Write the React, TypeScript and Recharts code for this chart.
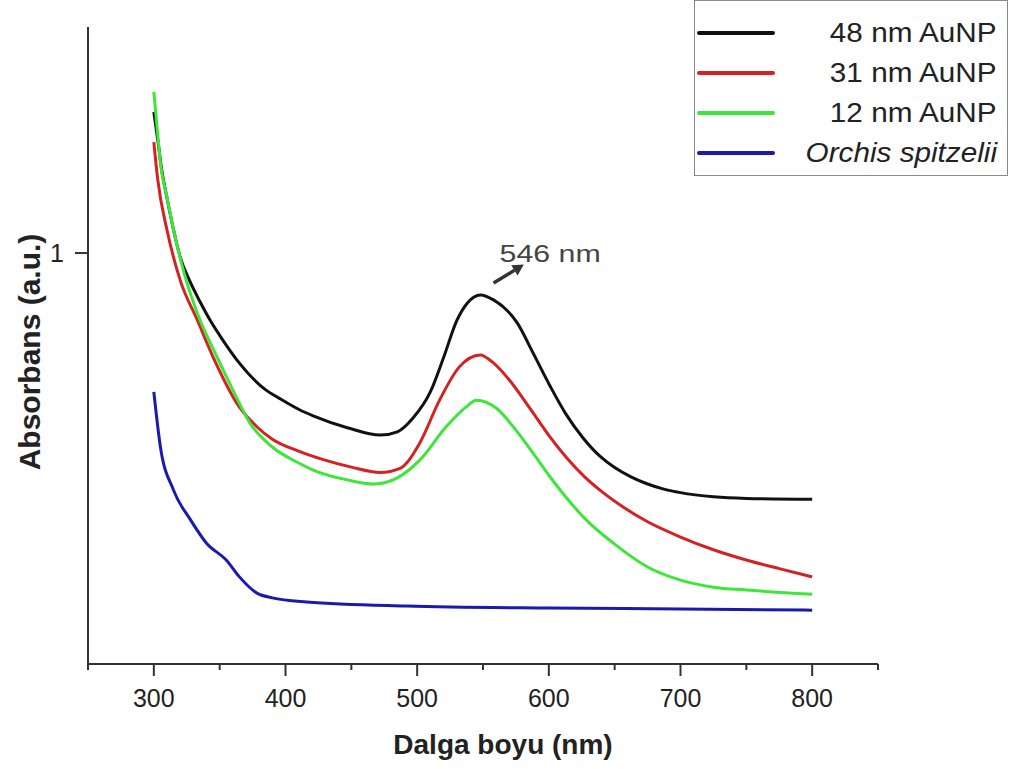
import React from "react";
import {
  LineChart, Line, XAxis, YAxis, Legend, ReferenceLine, ReferenceDot,
} from "recharts";

// wavelength (nm) / absorbance
const WL_48 = [300, 303, 306, 310, 315, 320, 327, 335, 343, 352, 365, 385, 395, 411, 421, 447, 472, 485, 497, 510, 520, 530, 538, 548, 558, 576, 588, 601, 613, 626, 639, 650, 662, 675, 688, 700, 725, 750, 800];
const ABS_48 = [1.343, 1.275, 1.202, 1.134, 1.056, 0.99, 0.934, 0.882, 0.835, 0.79, 0.732, 0.667, 0.647, 0.618, 0.604, 0.575, 0.557, 0.565, 0.599, 0.662, 0.745, 0.835, 0.878, 0.898, 0.886, 0.83, 0.757, 0.676, 0.608, 0.55, 0.505, 0.478, 0.456, 0.438, 0.425, 0.417, 0.407, 0.403, 0.401];

const WL_31 = [300, 303, 310, 320, 333, 345, 365, 378, 390, 410, 430, 450, 472, 487, 502, 517, 532, 548, 557, 570, 585, 601, 614, 627, 640, 655, 675, 700, 725, 750, 775, 800];
const ABS_31 = [1.27, 1.178, 1.056, 0.934, 0.837, 0.747, 0.625, 0.578, 0.547, 0.518, 0.496, 0.479, 0.466, 0.476, 0.538, 0.642, 0.723, 0.752, 0.735, 0.691, 0.625, 0.552, 0.5, 0.456, 0.42, 0.385, 0.346, 0.309, 0.278, 0.253, 0.232, 0.212];

const WL_12 = [300, 303, 305, 310, 315, 323, 333, 348, 360, 373, 390, 410, 421, 447, 467, 485, 502, 522, 537, 545, 560, 575, 588, 601, 614, 627, 649, 675, 700, 725, 750, 800];
const ABS_12 = [1.392, 1.287, 1.219, 1.136, 1.056, 0.951, 0.854, 0.747, 0.667, 0.586, 0.528, 0.489, 0.472, 0.448, 0.438, 0.453, 0.496, 0.577, 0.625, 0.642, 0.623, 0.569, 0.513, 0.455, 0.402, 0.355, 0.294, 0.236, 0.204, 0.187, 0.18, 0.17];

const WL_OS = [300, 305, 315, 328, 340, 355, 365, 378, 390, 416, 492, 600, 700, 800];
const ABS_OS = [0.662, 0.528, 0.423, 0.35, 0.294, 0.253, 0.212, 0.173, 0.161, 0.151, 0.141, 0.136, 0.134, 0.131];

const X_TICKS = [250, 300, 350, 400, 450, 500, 550, 600, 650, 700, 750, 800, 850];
const Y_TICKS = [1];

const zip = (w: number[], a: number[]) => w.map((v, i) => ({ w: v, a: a[i] }));

const SERIES = [
  { key: "48", name: "48 nm AuNP", color: "#111111", data: zip(WL_48, ABS_48), italic: false },
  { key: "31", name: "31 nm AuNP", color: "#d42222", data: zip(WL_31, ABS_31), italic: false },
  { key: "12", name: "12 nm AuNP", color: "#3ee63a", data: zip(WL_12, ABS_12), italic: false },
  { key: "os", name: "Orchis spitzelii", color: "#1a1aaf", data: zip(WL_OS, ABS_OS), italic: true },
];

const FONT = "'Liberation Sans', Arial, sans-serif";
const AXIS = "#333333";

const XTick = (props: any) => {
  const { x, y, payload } = props;
  const v = payload.value;
  const major = v % 100 === 0;
  return (
    <g>
      <line x1={x} y1={y} x2={x} y2={y + (major ? 12 : 6)} stroke={AXIS} strokeWidth={2} />
      {major && (
        <text x={x} y={y + 43} textAnchor="middle" fontSize={25} fontFamily={FONT} fill="#222">{v}</text>
      )}
    </g>
  );
};

const renderLegend = () => (
  <div style={{ width: 314, height: 176, border: "1px solid #8a8a8a", boxSizing: "border-box", background: "#fff", paddingTop: 12, fontFamily: FONT }}>
    {SERIES.map(s => (
      <div key={s.key} style={{ height: 40, display: "flex", alignItems: "center" }}>
        <div style={{ width: 78, height: 4, marginLeft: 2, background: s.color, borderRadius: 2 }} />
        <span
          style={{
            marginLeft: "auto", marginRight: 10, fontSize: 27, color: "#222",
            fontStyle: s.italic ? "italic" : "normal",
            display: "inline-block", transform: "scaleX(1.1)", transformOrigin: "right center",
          }}
        >
          {s.name}
        </span>
      </div>
    ))}
  </div>
);

const Arrow = (props: any) => {
  const { x1, y1, x2, y2 } = props;
  const ang = Math.atan2(y2 - y1, x2 - x1);
  const L = 11, W = 6;
  const bx = x2 - L * Math.cos(ang), by = y2 - L * Math.sin(ang);
  const p1 = `${bx + W * Math.sin(ang)},${by - W * Math.cos(ang)}`;
  const p2 = `${bx - W * Math.sin(ang)},${by + W * Math.cos(ang)}`;
  return (
    <g>
      <line x1={x1} y1={y1} x2={bx} y2={by} stroke="#333" strokeWidth={3.5} />
      <polygon points={`${x2},${y2} ${p1} ${p2}`} fill="#333" />
    </g>
  );
};

export default function App() {
  return (
    <div style={{ position: "absolute", left: 0, top: 0, width: 1015, height: 769, background: "#fff" }}>
      <LineChart width={1015} height={769} margin={{ top: 27, right: 137, bottom: 15, left: 18 }}>
        <XAxis
          type="number"
          dataKey="w"
          domain={[250, 850]}
          ticks={X_TICKS}
          allowDataOverflow
          interval={0}
          height={90}
          tickLine={false}
          tickSize={0}
          tickMargin={0}
          tick={<XTick />}
          axisLine={{ stroke: AXIS, strokeWidth: 2 }}
          label={{
            content: (p: any) => (
              <text x={p.viewBox.x + p.viewBox.width / 2 + 20} y={754} textAnchor="middle" fontSize={28} fontWeight="bold" fontFamily={FONT} fill="#222">
                Dalga boyu (nm)
              </text>
            ),
          }}
        />
        <YAxis
          type="number"
          domain={[0, 1.55]}
          ticks={Y_TICKS}
          allowDataOverflow
          width={70}
          tickSize={13}
          tickMargin={11}
          tick={{ fontSize: 25, fill: "#222", fontFamily: FONT }}
          tickLine={{ stroke: AXIS, strokeWidth: 2 }}
          axisLine={{ stroke: AXIS, strokeWidth: 2 }}
          label={{
            content: () => (
              <text x={0} y={0} transform="translate(40,352) rotate(-90)" textAnchor="middle" fontSize={30} fontWeight="bold" fontFamily={FONT} fill="#222">
                Absorbans (a.u.)
              </text>
            ),
          }}
        />
        <Legend
          layout="horizontal"
          verticalAlign="middle"
          align="center"
          content={renderLegend}
          wrapperStyle={{ left: 694, top: 0, width: 314, height: 176 }}
        />
        {SERIES.map(s => (
          <Line
            key={s.key}
            data={s.data}
            dataKey="a"
            name={s.name}
            type="monotone"
            stroke={s.color}
            strokeWidth={3}
            dot={false}
            activeDot={false}
            isAnimationActive={false}
          />
        ))}
        <ReferenceLine
          segment={[{ x: 558, y: 0.927 }, { x: 581, y: 0.972 }]}
          shape={<Arrow />}
        />
        <ReferenceDot
          x={601}
          y={0.99}
          r={0}
          fill="none"
          stroke="none"
          label={{
            content: (p: any) => (
              <text
                x={0}
                y={0}
                transform={`translate(${p.viewBox.x},${p.viewBox.y + 5}) scale(1.32,1)`}
                textAnchor="middle"
                fontSize={23}
                fontFamily={FONT}
                fill="#444"
              >
                546 nm
              </text>
            ),
          }}
        />
      </LineChart>
    </div>
  );
}
